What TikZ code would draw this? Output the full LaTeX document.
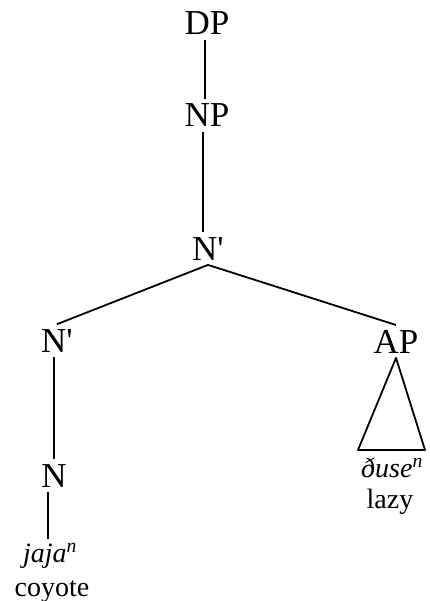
\documentclass[tikz,border=0pt]{standalone}
\usepackage{fontspec}
\setmainfont{Liberation Serif}[Ligatures=TeXOff]
\usepackage{tikz}
\usetikzlibrary{positioning}

\begin{document}
\begin{tikzpicture}[x=1pt,y=-1pt,line width=1.8pt,
  cat/.style={font=\fontsize{35}{38}\selectfont,anchor=base,inner sep=4pt},
  word/.style={font=\fontsize{28}{30}\selectfont,anchor=base,inner sep=4pt}]
  \useasboundingbox (0,0) rectangle (430,601);
  % categories
  \node[cat] (DP)  at (207,35)  {DP};
  \node[cat] (NP)  at (207,127) {NP};
  \node[cat] (Nb)  at (208,260) {N'};
  \node[cat] (Nbl) at (57,352)  {N'};
  \node[cat] (AP)  at (396,353) {AP};
  \node[cat] (N)   at (54,487)  {N};
  % words
  \node[word] (jaja)  at (50,562)  {\itshape jaja\textsuperscript{n}};
  \node[word] (coy)   at (52,596)  {coyote};
  \node[word] (duse)  at (392,477) {\itshape ðuse\textsuperscript{n}};
  \node[word] (lazy)  at (390,508) {lazy};
  % branches
  \draw ([xshift=-2pt]DP.south) -- ([xshift=-2pt]DP.south |- NP.north);
  \draw ([xshift=-4pt]NP.south) -- ([xshift=-4pt]NP.south |- Nb.north);
  \draw (Nb.south) -- (Nbl.north);
  \draw (Nb.south) -- (AP.north);
  \draw ([xshift=-3pt]Nbl.south) -- ([xshift=-3pt]Nbl.south |- N.north);
  \draw ([xshift=-6pt]N.south) -- ([xshift=-6pt]N.south |- jaja.north);
  % triangle
  \coordinate (APl) at (358,450);
  \coordinate (APr) at (425,450);
  \draw[line join=round] (AP.south) -- (APl) -- (APr) -- cycle;
\end{tikzpicture}
\end{document}
